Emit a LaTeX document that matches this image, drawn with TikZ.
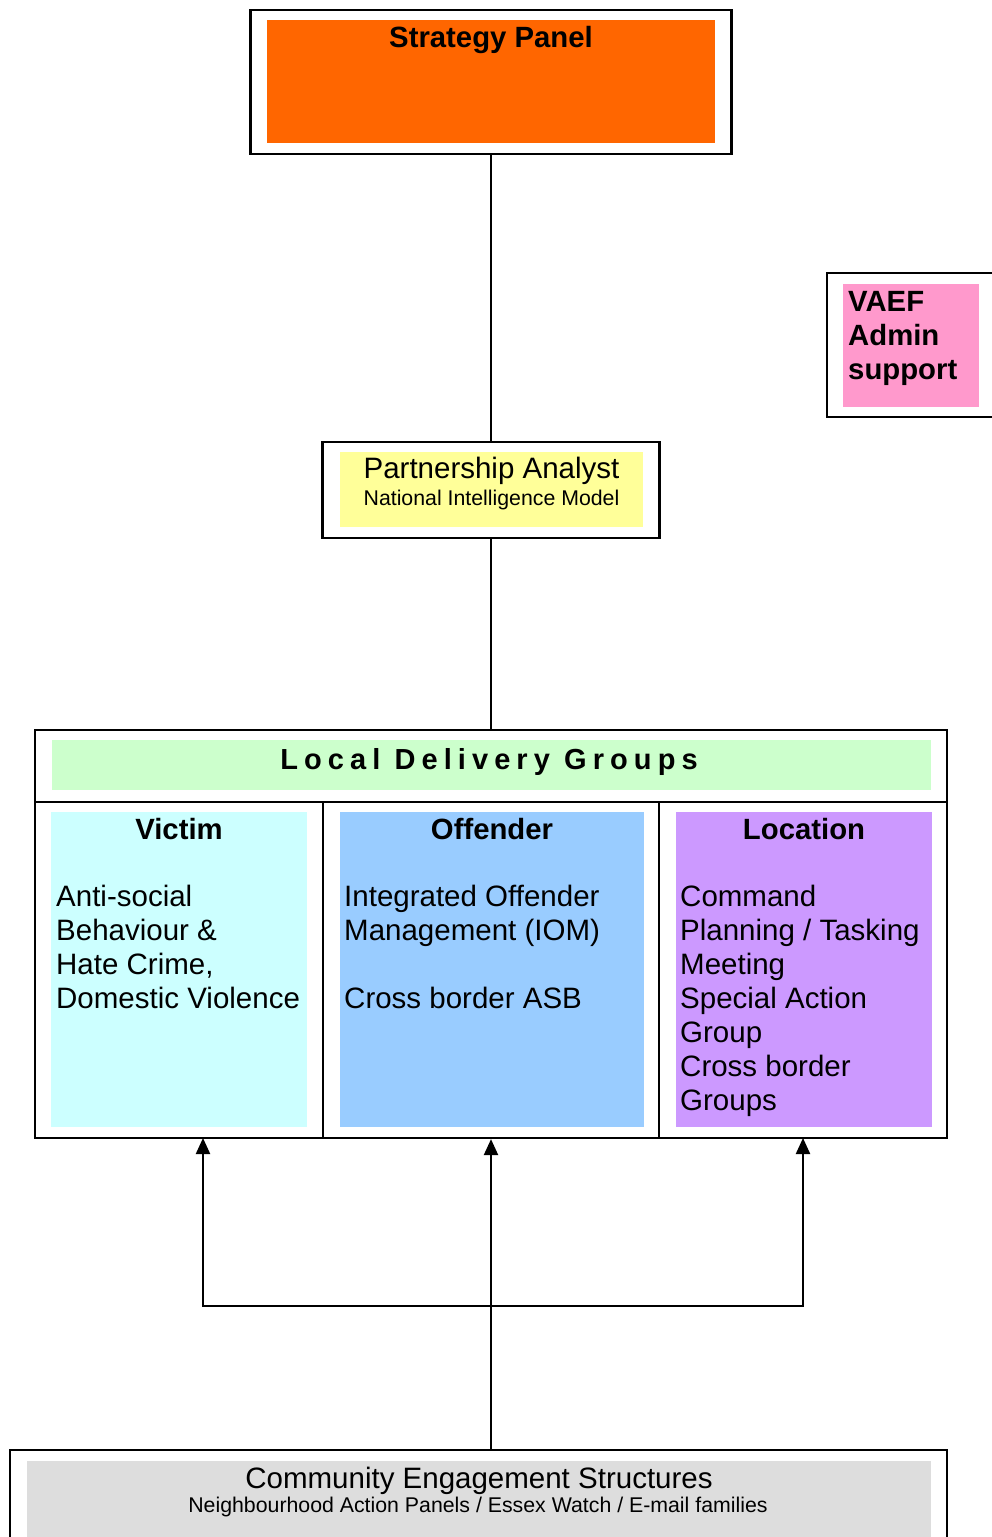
\documentclass[tikz,border=0pt]{standalone}
\usepackage{fontspec}
\setmainfont{Liberation Sans}
\newfontfamily\spacedfont[LetterSpace=21]{Liberation Sans}
\usetikzlibrary{arrows.meta}
\definecolor{spOrange}{HTML}{FF6600}
\definecolor{vaPink}{HTML}{FF99CC}
\definecolor{paYellow}{HTML}{FFFF99}
\definecolor{ldGreen}{HTML}{CCFFCC}
\definecolor{viCyan}{HTML}{CCFFFF}
\definecolor{ofBlue}{HTML}{99CCFF}
\definecolor{loPurple}{HTML}{CC99FF}
\definecolor{ceGray}{HTML}{DDDDDD}
\begin{document}
\begin{tikzpicture}[x=1pt,y=-1pt,
  frame/.style={draw=black, line width=2.2pt, rectangle, inner sep=0pt},
  conn/.style={draw=black, line width=2.2pt},
  arr/.style={draw=black, line width=2.2pt, -{Triangle[length=16pt,width=14pt]}},
  big/.style={font=\fontsize{29.5}{34}\selectfont, inner sep=0pt},
  bigb/.style={font=\fontsize{29.3}{34}\selectfont\bfseries, inner sep=0pt},
  small/.style={font=\fontsize{21.3}{24}\selectfont, inner sep=0pt}]
\useasboundingbox (0,0) rectangle (992,1537);
\clip (0,0) rectangle (992,1537);

% Strategy Panel
\node[frame, minimum width=481pt, minimum height=144pt] (sp) at (491,82) {};
\fill[spOrange] (267,20) rectangle (715,143);
\node[bigb, anchor=base] (spt) at (491,47) {Strategy Panel};

% VAEF
\node[frame, minimum width=180pt, minimum height=144pt] (va) at (917,345) {};
\fill[vaPink] (843,284) rectangle (979,407);
\node[bigb, anchor=base west] (va1) at (848,311) {VAEF};
\node[bigb, anchor=base west] (va2) at (848,345) {Admin};
\node[bigb, anchor=base west] (va3) at (848,379) {support};

% Partnership Analyst
\node[frame, minimum width=337pt, minimum height=96pt] (pa) at (491,490) {};
\fill[paYellow] (340,452) rectangle (643,527);
\node[big, anchor=base] (pat) at (491.5,478) {Partnership Analyst};
\node[small, anchor=base] (pas) at (491.5,505) {National Intelligence Model};

% Local Delivery Groups
\node[frame, minimum width=912pt, minimum height=408pt] (ldg) at (491,934) {};
\draw[conn] (35,802) -- (947,802);
\draw[conn] (323,802) -- (323,1138);
\draw[conn] (659,802) -- (659,1138);
\fill[ldGreen] (52,740) rectangle (931,790);
\node[inner sep=0pt, anchor=base, font=\fontsize{29}{34}\spacedfont\bfseries] (ldgt) at (489,769) {Local Delivery Groups};

\fill[viCyan] (51,812) rectangle (307,1127);
\fill[ofBlue] (340,812) rectangle (644,1127);
\fill[loPurple] (676,812) rectangle (932,1127);

\node[bigb, anchor=base] (vit) at (179,839) {Victim};
\node[bigb, anchor=base] (oft) at (492,839) {Offender};
\node[bigb, anchor=base] (lot) at (804,839) {Location};

\foreach \t [count=\i from 0] in {Anti-social, Behaviour \&, {Hate Crime,}, Domestic Violence}
  \node[big, anchor=base west] (vi\i) at (56,906+34*\i) {\t};
\node[big, anchor=base west] (of0) at (344,906) {Integrated Offender};
\node[big, anchor=base west] (of1) at (344,940) {Management (IOM)};
\node[big, anchor=base west] (of3) at (344,1008) {Cross border ASB};
\foreach \t [count=\i from 0] in {Command, Planning / Tasking, Meeting, Special Action, Group, Cross border, Groups}
  \node[big, anchor=base west] (lo\i) at (680,906+34*\i) {\t};

% Community Engagement Structures
\node[frame, minimum width=937pt, minimum height=110pt] (ces) at (478.5,1505) {};
\fill[ceGray] (27,1461) rectangle (931,1545);
\node[big, anchor=base] (cest) at (479,1488) {Community Engagement Structures};
\node[small, anchor=base] (cess) at (478,1512) {Neighbourhood Action Panels / Essex Watch / E-mail families};

% connectors
\draw[conn] (sp.south) -- (pa.north);
\draw[conn] (pa.south) -- (ldg.north);
\coordinate (vin) at (203,1138);
\coordinate (lin) at (803,1138);
\coordinate (j) at (491,1306);
\draw[arr] (ldg.south |- ces.north) -- (ldg.south);
\draw[arr] (j) -| (vin);
\draw[arr] (j) -| (lin);
\end{tikzpicture}
\end{document}
